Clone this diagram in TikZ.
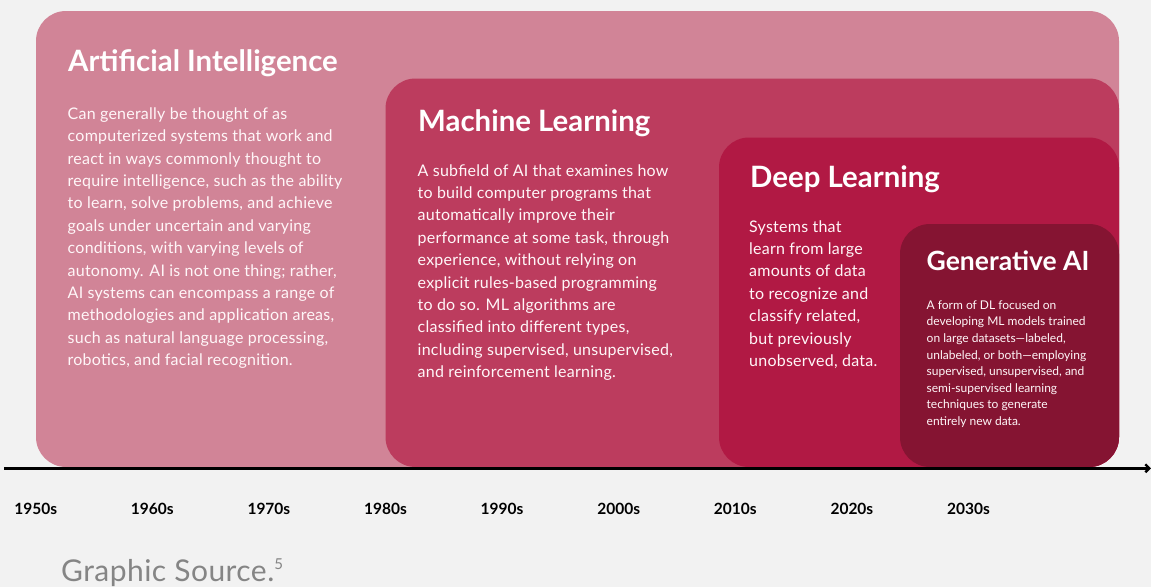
\documentclass[tikz,border=0pt]{standalone}
\usepackage{fontspec}
\setmainfont{Lato}
\usetikzlibrary{arrows.meta}
\definecolor{bgC}{HTML}{F2F2F2}
\definecolor{aiC}{HTML}{D18497}
\definecolor{mlC}{HTML}{BC3C5E}
\definecolor{dlC}{HTML}{B11944}
\definecolor{gaC}{HTML}{851432}
\definecolor{srcC}{HTML}{858585}
\definecolor{txtC}{HTML}{FFF6F8}
\begin{document}
\begin{tikzpicture}[x=1pt,y=-1pt,
  field/.style={rounded corners=30pt},
  heading/.style={anchor=base west, inner sep=0pt, text=white, font=\fontsize{29.4}{34}\selectfont\bfseries},
  subheading/.style={anchor=base west, inner sep=0pt, text=white, font=\fontsize{26.5}{30}\selectfont\bfseries},
  % multi-line texts are placed by the baseline of their last line
  body/.style={anchor=base west, inner sep=0pt, align=left, text=txtC, font=\fontsize{16}{22.4}\selectfont\addfontfeatures{LetterSpace=1.5}},
  smallbody/.style={anchor=base west, inner sep=0pt, align=left, text=txtC, font=\fontsize{12}{16.6}\selectfont},
  decade/.style={anchor=base, inner sep=0pt, text=black, font=\fontsize{15.5}{18}\selectfont\bfseries}]
\useasboundingbox (0,0) rectangle (1151,587);
\fill[bgC] (0,0) rectangle (1151,587);

% nested fields
\fill[aiC, field] (36,11) rectangle (1119,467);
\fill[mlC, field] (385.5,78.5) rectangle (1119,467);
\fill[dlC, field] (719,137.5) rectangle (1119,467);
\fill[gaC, field] (900,224) rectangle (1119,467);

% time axis
\coordinate (axL) at (4,468.3);
\coordinate (axR) at (1151,468.3);
\draw[line width=2.4pt, -{Straight Barb[length=4pt,width=8pt]}] (axL) -- (axR);

% headings
\node[heading] (aiT) at (68,71) {Artificial Intelligence};
\node[heading] (mlT) at (418,131) {Machine Learning};
\node[heading] (dlT) at (750,187.5) {Deep Learning};
\node[subheading] (gaT) at (926.5,270.5) {Generative AI};

% descriptions
\node[body] (aiB) at (67.5,365.7) {Can generally be thought of as\\
computerized systems that work and\\
react in ways commonly thought to\\
require intelligence, such as the ability\\
to learn, solve problems, and achieve\\
goals under uncertain and varying\\
conditions, with varying levels of\\
autonomy. AI is not one thing; rather,\\
AI systems can encompass a range of\\
methodologies and application areas,\\
such as natural language processing,\\
robotics, and facial recognition.};

\node[body] (mlB) at (417.5,377.6) {A subfield of AI that examines how\\
to build computer programs that\\
automatically improve their\\
performance at some task, through\\
experience, without relying on\\
explicit rules-based programming\\
to do so. ML algorithms are\\
classified into different types,\\
including supervised, unsupervised,\\
and reinforcement learning.};

\node[body] (dlB) at (749,366.4) {Systems that\\
learn from large\\
amounts of data\\
to recognize and\\
classify related,\\
but previously\\
unobserved, data.};

\node[smallbody] (gaB) at (926.5,425.5) {A form of DL focused on\\
developing ML models trained\\
on large datasets—labeled,\\
unlabeled, or both—employing\\
supervised, unsupervised, and\\
semi-supervised learning\\
techniques to generate\\
entirely new data.};

% decades
\node[decade] (d1950) at (35.7,514.3) {1950s};
\node[decade] (d1960) at (152.3,514.3) {1960s};
\node[decade] (d1970) at (268.9,514.3) {1970s};
\node[decade] (d1980) at (385.5,514.3) {1980s};
\node[decade] (d1990) at (502.1,514.3) {1990s};
\node[decade] (d2000) at (618.7,514.3) {2000s};
\node[decade] (d2010) at (735.3,514.3) {2010s};
\node[decade] (d2020) at (851.9,514.3) {2020s};
\node[decade] (d2030) at (968.5,514.3) {2030s};

% source note
\node[anchor=base west, inner sep=0pt, text=srcC, font=\fontsize{30}{32}\selectfont\addfontfeatures{LetterSpace=1.5}] (src) at (61,581.7)
  {Graphic Source.\raisebox{12.5pt}{\fontsize{15}{18}\selectfont 5}};
\end{tikzpicture}
\end{document}
